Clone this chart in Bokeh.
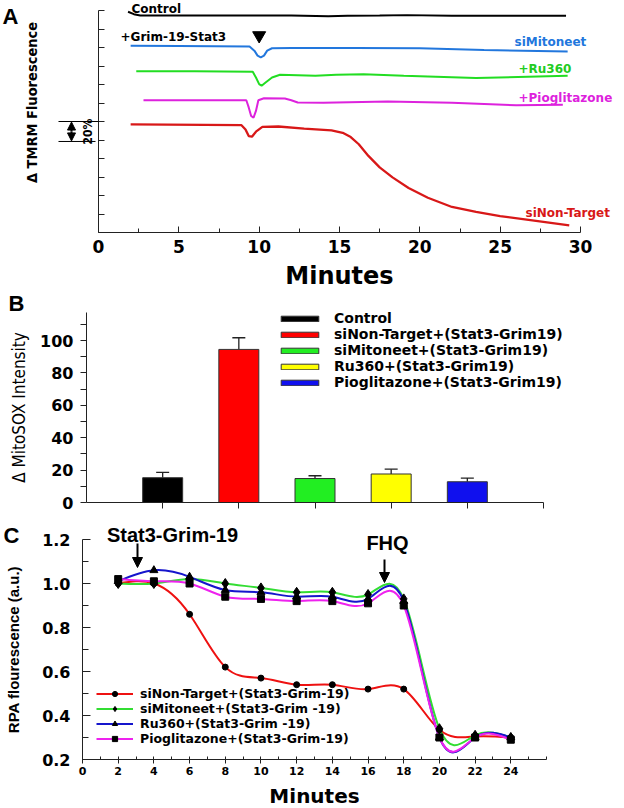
import numpy as np
from bokeh.plotting import figure
from bokeh.layouts import column
from bokeh.models import (Range1d, FixedTicker, Label, Arrow, NormalHead, TeeHead,
                          Whisker, ColumnDataSource, Legend, LegendItem, PrintfTickFormatter)
from bokeh.embed import file_html
from bokeh.resources import INLINE

# ---------------- Panel A : TMRM traces (minutes, offset units) ----------------
a_ctrl_t = [1.84, 2.2, 2.6, 5.0, 9.0, 12.0, 14.3, 15.5, 17.5, 19.2, 22.0, 25.0, 29.1]
a_ctrl_y = [11.93, 11.80, 11.73, 11.73, 11.73, 11.73, 11.69, 11.72, 11.73, 11.75, 11.72, 11.72, 11.72]

a_mito_t = [2.0, 5.0, 9.4, 9.7, 9.9, 10.1, 10.3, 10.5, 10.8, 12.0, 16.0, 20.0, 24.0, 29.2]
a_mito_y = [10.10, 10.08, 10.05, 9.83, 9.56, 9.47, 9.56, 9.83, 9.96, 9.97, 9.97, 9.96, 9.87, 9.78]

a_ru_t = [2.35, 6.0, 9.6, 9.8, 10.0, 10.15, 10.4, 10.8, 11.3, 13.5, 14.8, 16.5, 19.0, 23.5, 29.2]
a_ru_y = [8.71, 8.71, 8.69, 8.38, 8.02, 7.93, 8.11, 8.38, 8.53, 8.47, 8.53, 8.56, 8.47, 8.35, 8.47]

a_pio_t = [2.8, 9.2, 9.35, 9.5, 9.65, 9.8, 9.95, 10.3, 11.6, 12.0, 12.4, 14.0, 18.0, 22.0, 26.0, 28.9]
a_pio_y = [7.15, 7.15, 6.76, 6.30, 6.21, 6.57, 7.15, 7.26, 7.24, 7.15, 7.03, 7.01, 7.08, 7.01, 6.88, 6.90]

a_non_t = [2.0, 8.9, 9.15, 9.35, 9.55, 9.8, 10.2, 11.2, 12.8, 14.5, 15.2, 15.7, 16.2, 16.8,
           17.5, 18.3, 19.3, 20.5, 22.0, 23.5, 25.0, 27.0, 29.3]
a_non_y = [5.84, 5.80, 5.57, 5.21, 5.18, 5.45, 5.71, 5.73, 5.61, 5.52, 5.39, 5.16, 4.77, 4.14,
           3.52, 2.98, 2.41, 1.88, 1.38, 1.11, 0.88, 0.66, 0.39]

a_xticks = [0, 5, 10, 15, 20, 25, 30]
a_xminor = [2.5, 7.5, 12.5, 17.5, 22.5, 27.5]
a_yticks = list(range(13))

# ---------------- Panel B : MitoSOX bars ----------------
b_names = ["Control", "siNon-Target+(Stat3-Grim19)", "siMitoneet+(Stat3-Grim19)",
           "Ru360+(Stat3-Grim19)", "Pioglitazone+(Stat3-Grim19)"]
b_values = [15.3, 94.5, 14.8, 17.6, 12.8]
b_errors = [3.3, 7.2, 1.7, 3.0, 2.3]
b_colors = ["#000000", "#FF0000", "#22EE22", "#FFFF00", "#1010EE"]
b_yticks = [0, 20, 40, 60, 80, 100]
b_yminor = [10, 30, 50, 70, 90, 110]

# ---------------- Panel C : RPA fluorescence ----------------
c_minutes = [2, 4, 6, 8, 10, 12, 14, 16, 18, 20, 22, 24]
c_non = [1.00, 1.00, 0.86, 0.62, 0.57, 0.54, 0.54, 0.52, 0.52, 0.335, 0.305, 0.30]
c_mito = [1.00, 1.00, 1.02, 1.00, 0.98, 0.96, 0.96, 0.95, 0.93, 0.34, 0.31, 0.30]
c_ru = [1.01, 1.06, 1.03, 0.97, 0.96, 0.94, 0.94, 0.93, 0.92, 0.30, 0.30, 0.30]
c_pio = [1.02, 1.01, 1.00, 0.94, 0.93, 0.92, 0.92, 0.91, 0.90, 0.30, 0.30, 0.29]
c_labels = ["siNon-Target+(Stat3-Grim-19)", "siMitoneet+(Stat3-Grim -19)",
            "Ru360+(Stat3-Grim -19)", "Pioglitazone+(Stat3-Grim-19)"]
c_xticks = list(range(0, 25, 2))
c_xminor = list(range(1, 26, 2)) + [26]
c_yticks = [0.2, 0.4, 0.6, 0.8, 1.0, 1.2]
c_yminor = [0.3, 0.5, 0.7, 0.9, 1.1]

# ---------------- fonts / layout helpers ----------------
WIDE = "DejaVu Sans"
ARIAL = "Liberation Sans"
NARROW = "'Liberation Sans Narrow', 'DejaVu Sans Condensed', sans-serif"
AXIS_COL = "#222222"
PAGE_L, PAGE_R = 0, 624


class PxMap:
    """Linear map between data values and page pixels for one panel."""

    def __init__(self, xa, pxa, xb, pxb, ya, pya, yb, pyb):
        self.sx = (xb - xa) / (pxb - pxa)
        self.xa, self.pxa = xa, pxa
        self.sy = (yb - ya) / (pyb - pya)
        self.ya, self.pya = ya, pya

    def x(self, px):
        return self.xa + (px - self.pxa) * self.sx

    def y(self, py):
        return self.ya + (py - self.pya) * self.sy


def panel_fig(m, top, bottom):
    p = figure(width=PAGE_R - PAGE_L, height=bottom - top, output_backend="svg",
               toolbar_location=None,
               x_range=Range1d(m.x(PAGE_L), m.x(PAGE_R)),
               y_range=Range1d(m.y(bottom), m.y(top)))
    p.min_border = 0
    p.outline_line_color = None
    p.xgrid.visible = False
    p.ygrid.visible = False
    p.background_fill_color = "white"
    p.border_fill_color = "white"
    for ax in (p.xaxis[0], p.yaxis[0]):
        ax.axis_line_color = AXIS_COL
        ax.major_tick_line_color = AXIS_COL
        ax.minor_tick_line_color = AXIS_COL
        ax.major_label_text_font = WIDE
        ax.major_label_text_font_style = "bold"
        ax.major_label_text_color = "black"
    return p


def text_label(p, x, y, text, font, size, style="bold", color="black", align="left",
               angle=0.0):
    p.add_layout(Label(x=x, y=y, text=text, text_font=font, text_font_size=size,
                       text_font_style=style, text_color=color, text_align=align,
                       text_baseline="middle", angle=angle))


def spline_beziers(x, y):
    """Natural cubic spline through the points, expressed as Bezier control points."""
    x = np.asarray(x, float)
    y = np.asarray(y, float)
    n = len(x)
    h = np.diff(x)
    A = np.zeros((n, n))
    r = np.zeros(n)
    A[0, 0] = A[-1, -1] = 1.0
    for i in range(1, n - 1):
        A[i, i - 1] = h[i - 1]
        A[i, i] = 2 * (h[i - 1] + h[i])
        A[i, i + 1] = h[i]
        r[i] = 6 * ((y[i + 1] - y[i]) / h[i] - (y[i] - y[i - 1]) / h[i - 1])
    M = np.linalg.solve(A, r)
    sl = (y[1:] - y[:-1]) / h
    d0 = sl - h * (2 * M[:-1] + M[1:]) / 6
    d1 = sl + h * (M[:-1] + 2 * M[1:]) / 6
    return dict(x0=x[:-1], y0=y[:-1], x1=x[1:], y1=y[1:],
                cx0=x[:-1] + h / 3, cy0=y[:-1] + d0 * h / 3,
                cx1=x[1:] - h / 3, cy1=y[1:] - d1 * h / 3)


# =============================== Panel A ===============================
ma = PxMap(0, 98, 30, 580, 0, 232, 12, 10)
pa = panel_fig(ma, 0, 292)
pa.xaxis.fixed_location = 0
pa.yaxis.fixed_location = 0
pa.xaxis.bounds = (0, 30)
pa.yaxis.bounds = (0, 12)
pa.xaxis.ticker = FixedTicker(ticks=a_xticks, minor_ticks=a_xminor)
pa.xaxis.major_tick_in = 6
pa.xaxis.major_tick_out = 0
pa.xaxis.minor_tick_in = 4
pa.xaxis.minor_tick_out = 0
pa.xaxis.major_label_text_font_size = "17px"
pa.xaxis.major_label_standoff = 7
pa.yaxis.ticker = FixedTicker(ticks=a_yticks)
pa.yaxis.major_tick_in = 6
pa.yaxis.major_tick_out = 0
pa.yaxis.minor_tick_line_color = None
pa.yaxis.major_label_text_color = None

pa.line(a_ctrl_t, a_ctrl_y, line_color="black", line_width=2)
pa.line(a_mito_t, a_mito_y, line_color="#2277DD", line_width=2)
pa.line(a_ru_t, a_ru_y, line_color="#22DD22", line_width=2)
pa.line(a_pio_t, a_pio_y, line_color="#DD22DD", line_width=2)
pa.line(a_non_t, a_non_y, line_color="#D81818", line_width=2.3)
pa.scatter([10], [10.65], marker="inverted_triangle", size=13, color="black")

text_label(pa, ma.x(131), ma.y(8), "Control", WIDE, "12px")
text_label(pa, ma.x(120), 10.58, "+Grim-19-Stat3", WIDE, "12px")
text_label(pa, ma.x(514), 10.29, "siMitoneet", WIDE, "12px", color="#2277DD")
text_label(pa, ma.x(518), 8.85, "+Ru360", WIDE, "12px", color="#22CC22")
text_label(pa, ma.x(518), 7.28, "+Pioglitazone", WIDE, "12px", color="#DD22DD")
text_label(pa, ma.x(525), 1.03, "siNon-Target", WIDE, "12px", color="#D81818")
text_label(pa, ma.x(2), ma.y(16), "A", ARIAL, "22px")
text_label(pa, ma.x(31), ma.y(102), "\u0394 TMRM Fluorescence", NARROW, "14.5px",
           align="center", angle=np.pi / 2)
text_label(pa, 15, ma.y(275), "Minutes", WIDE, "24px", align="center")

# 20 % scale bar
bar_top, bar_bot = 6.0, 4.92
bar_x0, bar_arrow_x = ma.x(58), ma.x(71)
pa.add_layout(Arrow(x_start=bar_x0, y_start=bar_top, x_end=0, y_end=bar_top, end=None,
                    line_color="black", line_width=1))
pa.add_layout(Arrow(x_start=bar_x0, y_start=bar_bot, x_end=ma.x(95), y_end=bar_bot, end=None,
                    line_color="black", line_width=1))
mid = (bar_top + bar_bot) / 2
for yend in (bar_top - 0.03, bar_bot + 0.03):
    pa.add_layout(Arrow(x_start=bar_arrow_x, y_start=mid, x_end=bar_arrow_x, y_end=yend,
                        end=NormalHead(size=8, fill_color="black", line_color="black"),
                        line_color="black", line_width=2))
text_label(pa, ma.x(87), mid, "20%", NARROW, "12px", align="center", angle=np.pi / 2)

# =============================== Panel B ===============================
mb = PxMap(0, 86, 6, 543, 0, 502, 100, 340)
pb = panel_fig(mb, 292, 518)
pb.xaxis.fixed_location = 0
pb.yaxis.fixed_location = 0
pb.xaxis.bounds = (0, 6)
pb.yaxis.bounds = (0, 117)
b_x = [i + 1 for i in range(len(b_names))]
b_src = ColumnDataSource(dict(x=b_x, top=b_values,
                              upper=[v + e for v, e in zip(b_values, b_errors)],
                              color=b_colors, name=b_names))
pb.vbar(x="x", top="top", width=0.525, fill_color="color", line_color="#333333",
        line_width=1, source=b_src, legend_field="name")
pb.add_layout(Whisker(source=b_src, base="x", lower="top", upper="upper", dimension="height",
                      line_color="#222222", line_width=1.3, lower_head=None,
                      upper_head=TeeHead(size=13, line_color="#222222", line_width=1.3)))
pb.xaxis.ticker = FixedTicker(ticks=b_x + [len(b_x) + 1])
pb.xaxis.major_tick_in = 0
pb.xaxis.major_tick_out = 6
pb.xaxis.major_label_text_color = None
pb.yaxis.ticker = FixedTicker(ticks=b_yticks, minor_ticks=b_yminor)
pb.yaxis.major_tick_in = 0
pb.yaxis.major_tick_out = 6
pb.yaxis.minor_tick_in = 0
pb.yaxis.minor_tick_out = 6
pb.yaxis.major_label_text_font_size = "16px"
pb.yaxis.major_label_standoff = 7

lg = pb.legend[0]
lg.location = (276, 128)
lg.glyph_width = 47
lg.glyph_height = 7
lg.label_height = 14
lg.label_standoff = 11
lg.spacing = 0
lg.padding = 0
lg.margin = 0
lg.border_line_color = None
lg.background_fill_alpha = 0
lg.label_text_font = WIDE
lg.label_text_font_style = "bold"
lg.label_text_font_size = "14px"
lg.label_text_color = "black"

text_label(pb, mb.x(8), mb.y(303), "B", ARIAL, "22px")
text_label(pb, mb.x(18), mb.y(407), "\u0394 MitoSOX Intensity", NARROW, "17px",
           style="normal", align="center", angle=np.pi / 2)

# =============================== Panel C ===============================
mc = PxMap(0, 82, 26, 546, 0.2, 759, 1.2, 539)
pc = panel_fig(mc, 518, 808)
pc.xaxis.fixed_location = 0.2
pc.yaxis.fixed_location = 0
pc.xaxis.bounds = (0, 26)
pc.yaxis.bounds = (0.2, 1.2)
pc.xaxis.ticker = FixedTicker(ticks=c_xticks, minor_ticks=c_xminor)
pc.xaxis.major_tick_in = 3
pc.xaxis.major_tick_out = 4
pc.xaxis.minor_tick_in = 3
pc.xaxis.minor_tick_out = 0
pc.xaxis.major_label_text_font_size = "11px"
pc.xaxis.major_label_standoff = 3
pc.yaxis.ticker = FixedTicker(ticks=c_yticks, minor_ticks=c_yminor)
pc.yaxis.formatter = PrintfTickFormatter(format="%.1f")
pc.yaxis.major_tick_in = 8
pc.yaxis.major_tick_out = 0
pc.yaxis.minor_tick_in = 6
pc.yaxis.minor_tick_out = 0
pc.yaxis.major_label_text_font_size = "16px"
pc.yaxis.major_label_standoff = 12

series = [
    (c_non, "#EE1111", "circle", 6, c_labels[0]),
    (c_mito, "#33DD33", "diamond", 10, c_labels[1]),
    (c_ru, "#1515CC", "triangle", 8, c_labels[2]),
    (c_pio, "#EE22EE", "square", 7, c_labels[3]),
]
line_rs = []
for vals, col, mk, sz, lab in series:
    src = ColumnDataSource(spline_beziers(c_minutes, vals))
    line_rs.append(pc.bezier(x0="x0", y0="y0", x1="x1", y1="y1", cx0="cx0", cy0="cy0",
                             cx1="cx1", cy1="cy1", source=src, line_color=col,
                             line_width=2))
mk_rs = [pc.scatter(c_minutes, vals, marker=mk, size=sz, color="black")
         for vals, col, mk, sz, lab in series]
items = [LegendItem(label=s[4], renderers=[lr, mr]) for s, lr, mr in zip(series, line_rs, mk_rs)]
lc = Legend(items=items, location=(96, 62), glyph_width=37, glyph_height=13,
            label_height=13, label_standoff=7, spacing=0, padding=0, margin=0,
            border_line_color=None, background_fill_alpha=0,
            label_text_font=WIDE, label_text_font_style="bold",
            label_text_font_size="12.5px", label_text_color="black")
pc.add_layout(lc, "center")

text_label(pc, mc.x(172), mc.y(534), "Stat3-Grim-19", ARIAL, "20px", align="center")
text_label(pc, mc.x(387), mc.y(542), "FHQ", ARIAL, "20px", align="center")
pc.add_layout(Arrow(x_start=mc.x(137), y_start=mc.y(543), x_end=mc.x(137), y_end=mc.y(567),
                    end=NormalHead(size=10, fill_color="black", line_color="black"),
                    line_color="black", line_width=2))
pc.add_layout(Arrow(x_start=mc.x(384), y_start=mc.y(559), x_end=mc.x(384), y_end=mc.y(582),
                    end=NormalHead(size=10, fill_color="black", line_color="black"),
                    line_color="black", line_width=2))
text_label(pc, mc.x(3), mc.y(535), "C", ARIAL, "22px")
text_label(pc, mc.x(13), mc.y(649), "RPA flourescence (a.u.)", ARIAL, "15px",
           align="center", angle=np.pi / 2)
text_label(pc, 13, mc.y(795), "Minutes", WIDE, "20px", align="center")

layout = column(pa, pb, pc, spacing=0)
open("out.html", "w").write(file_html(layout, INLINE))
